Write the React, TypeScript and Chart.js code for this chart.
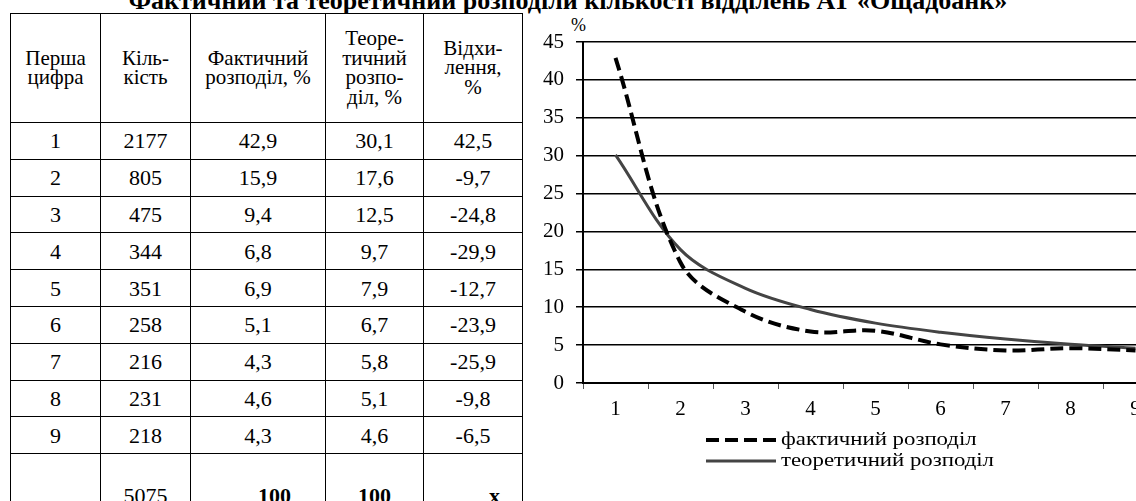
import React, { useEffect, useRef } from 'react';
import { Chart, registerables } from 'chart.js';

Chart.register(...registerables);

const chartTitle = 'Фактичний та теоретичний розподіли кількості відділень АТ «Ощадбанк»';
const tableHeaders = ['Перша\nцифра', 'Кіль-\nкість', 'Фактичний\nрозподіл, %', 'Теоре-\nтичний\nрозпо-\nділ, %', 'Відхи-\nлення,\n%'];
const digits = ['1', '2', '3', '4', '5', '6', '7', '8', '9'];
const counts = [2177, 805, 475, 344, 351, 258, 216, 231, 218];
const actualPct = [42.9, 15.9, 9.4, 6.8, 6.9, 5.1, 4.3, 4.6, 4.3];
const theoreticalPct = [30.1, 17.6, 12.5, 9.7, 7.9, 6.7, 5.8, 5.1, 4.6];
const deviationPct = [42.5, -9.7, -24.8, -29.9, -12.7, -23.9, -25.9, -9.8, -6.5];
const totalsRow = ['', '5075', '100', '100', 'x'];
const seriesLabels = ['фактичний розподіл', 'теоретичний розподіл'];
const yAxisUnit = '%';
const yMin = 0;
const yMax = 45;
const yStep = 5;

const FONT = "'Liberation Serif', 'Times New Roman', serif";

const fmt = (v: number) => v.toFixed(1).replace('.', ',');

const stackedLegend = {
  id: 'stackedLegend',
  afterDraw(chart: any) {
    const ctx = chart.ctx as CanvasRenderingContext2D;
    const ds = chart.data.datasets;
    const fontSize = 19;
    const stretch = 1.2;
    const sampleW = 70;
    const gap = 5;
    ctx.save();
    ctx.font = `${fontSize}px ${FONT}`;
    const widths = ds.map((d: any) => ctx.measureText(d.label).width * stretch);
    const maxW = Math.max(...widths);
    const blockW = sampleW + gap + maxW;
    const left = chart.width / 2 - blockW / 2;
    const base = chart.chartArea.bottom + 57;
    ds.forEach((d: any, i: number) => {
      const y = base + i * 21;
      ctx.beginPath();
      ctx.setLineDash(d.borderDash || []);
      ctx.lineWidth = d.borderWidth;
      ctx.strokeStyle = d.borderColor;
      ctx.moveTo(left, y);
      ctx.lineTo(left + sampleW, y);
      ctx.stroke();
      ctx.setLineDash([]);
      ctx.save();
      ctx.translate(left + sampleW + gap, y);
      ctx.scale(stretch, 1);
      ctx.fillStyle = '#000';
      ctx.textBaseline = 'middle';
      ctx.textAlign = 'left';
      ctx.fillText(d.label, 0, 0);
      ctx.restore();
    });
    ctx.restore();
  },
};

function DistributionChart() {
  const ref = useRef<HTMLCanvasElement | null>(null);
  useEffect(() => {
    if (!ref.current) return;
    const chart = new Chart(ref.current, {
      type: 'line',
      data: {
        labels: digits,
        datasets: [
          {
            label: seriesLabels[0],
            data: actualPct,
            borderColor: '#000',
            borderWidth: 4,
            borderDash: [13, 6],
            pointRadius: 0,
            tension: 0.35,
            fill: false,
          },
          {
            label: seriesLabels[1],
            data: theoreticalPct,
            borderColor: '#444',
            borderWidth: 3,
            pointRadius: 0,
            tension: 0.35,
            fill: false,
          },
        ],
      },
      options: {
        animation: false,
        responsive: true,
        maintainAspectRatio: false,
        layout: { padding: { left: 0, right: 12, top: 42, bottom: 78 } },
        plugins: {
          legend: { display: false },
          tooltip: { enabled: false },
          title: { display: false },
        },
        scales: {
          x: {
            type: 'category',
            offset: true,
            grid: {
              display: true,
              offset: true,
              drawOnChartArea: false,
              drawTicks: true,
              tickLength: 6,
              color: '#555',
              lineWidth: 1,
            },
            border: { display: true, color: '#000', width: 2 },
            ticks: {
              color: '#000',
              font: { family: FONT, size: 21 },
              padding: 8,
              maxRotation: 0,
              autoSkip: false,
            },
            afterFit: (s: any) => {
              s.height = 40;
            },
          },
          y: {
            min: yMin,
            max: yMax,
            ticks: {
              stepSize: yStep,
              color: '#000',
              font: { family: FONT, size: 21 },
              padding: 12,
            },
            grid: { color: '#000', lineWidth: 1.5, tickLength: 7 },
            border: { display: true, color: '#000', width: 2 },
            afterFit: (s: any) => {
              s.width = 63;
            },
          },
        },
      },
      plugins: [stackedLegend],
    });
    return () => chart.destroy();
  }, []);
  return <canvas ref={ref} />;
}

const cellBorder = '1.5px solid #000';
const colWidths = [90, 90, 135, 98, 99];

export default function App() {
  const tdBase: React.CSSProperties = {
    border: cellBorder,
    textAlign: 'center',
    padding: 0,
    fontSize: 22,
    lineHeight: '23px',
  };
  return (
    <div
      style={{
        position: 'fixed',
        left: 0,
        top: 0,
        width: 1136,
        height: 501,
        overflow: 'hidden',
        background: '#fff',
        fontFamily: FONT,
        color: '#000',
      }}
    >
      <div
        style={{
          position: 'absolute',
          left: 0,
          top: -12,
          width: 1136,
          textAlign: 'center',
          fontWeight: 'bold',
          fontSize: 26,
          lineHeight: '26px',
          whiteSpace: 'nowrap',
        }}
      >
        {chartTitle}
      </div>
      <table
        style={{
          position: 'absolute',
          left: 10,
          top: 13,
          borderCollapse: 'collapse',
          tableLayout: 'fixed',
          width: colWidths.reduce((a, b) => a + b, 0),
        }}
      >
        <colgroup>
          {colWidths.map((w, i) => (
            <col key={i} style={{ width: w }} />
          ))}
        </colgroup>
        <tbody>
          <tr style={{ height: 109 }}>
            {tableHeaders.map((h, i) => (
              <td key={i} style={{ ...tdBase, lineHeight: '19.5px', whiteSpace: 'pre-line', fontSize: 21 }}>
                {h}
              </td>
            ))}
          </tr>
          {digits.map((d, i) => (
            <tr key={d} style={{ height: 36.8 }}>
              <td style={tdBase}>{d}</td>
              <td style={tdBase}>{counts[i]}</td>
              <td style={tdBase}>{fmt(actualPct[i])}</td>
              <td style={tdBase}>{fmt(theoreticalPct[i])}</td>
              <td style={tdBase}>{fmt(deviationPct[i])}</td>
            </tr>
          ))}
          <tr style={{ height: 54 }}>
            {totalsRow.map((t, i) => (
              <td
                key={i}
                style={{
                  ...tdBase,
                  verticalAlign: 'bottom',
                  fontWeight: i >= 2 ? 'bold' : 'normal',
                  textAlign: i === 2 || i === 4 ? 'right' : 'center',
                  paddingRight: i === 2 ? 34 : i === 4 ? 22 : 0,
                }}
              >
                {t}
              </td>
            ))}
          </tr>
        </tbody>
      </table>
      <div
        style={{
          position: 'absolute',
          left: 571,
          top: 16,
          fontSize: 18,
          lineHeight: '18px',
        }}
      >
        {yAxisUnit}
      </div>
      <div style={{ position: 'absolute', left: 520, top: 0, width: 660, height: 501 }}>
        <DistributionChart />
      </div>
    </div>
  );
}
